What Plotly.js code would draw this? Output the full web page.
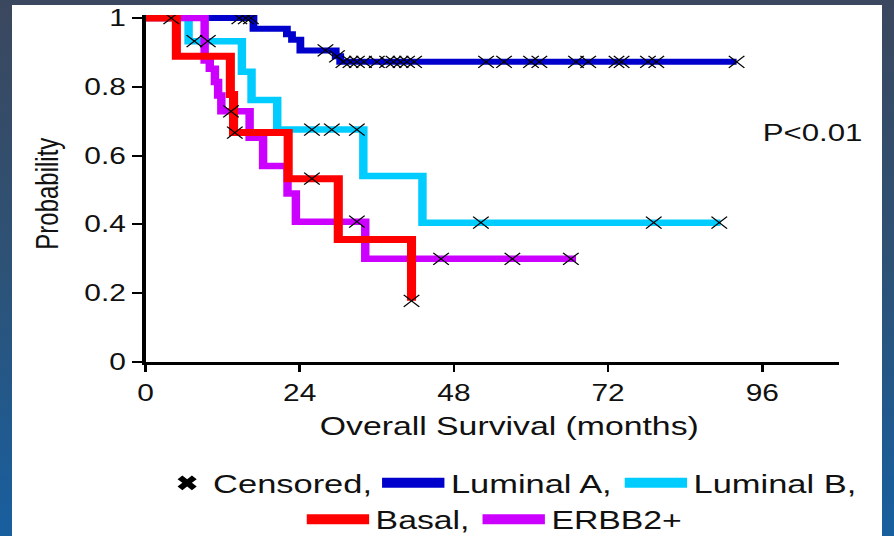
<!DOCTYPE html>
<html><head><meta charset="utf-8">
<script src="https://cdn.plot.ly/plotly-3.0.1.min.js"></script>
<style>
html,body{margin:0;padding:0;width:894px;height:536px;overflow:hidden;}
body{background:linear-gradient(180deg,#3b475e 0%,#2d5276 50%,#185f9f 100%);position:relative;}
#panel{position:absolute;left:12px;top:5px;width:870px;height:531px;background:#fff;}
#chart{position:absolute;left:0;top:0;width:688px;height:536px;transform:scale(1.2994,1);transform-origin:0 0;}
</style></head><body>
<div id="panel"></div><div id="chart"></div>
<script>
// Kaplan-Meier step data (months, survival probability)
const lumATimes = [0, 16.8, 22.0, 22.8, 24.1, 29.6, 30.3, 92.0];
const lumASurv  = [1, 0.969, 0.953, 0.937, 0.906, 0.889, 0.873, 0.873];
const lumACens  = [14.6, 15.6, 16.4, 28.0, 29.8, 30.8, 31.9, 32.9, 34.0, 36.0, 37.6, 38.6, 39.7, 40.7, 41.8,
                   53.0, 55.8, 60.0, 61.3, 67.0, 68.9, 73.3, 74.1, 78.2, 79.5, 92.0];

const lumBTimes = [0, 6.7, 15.0, 16.5, 20.5, 33.9, 43.1, 89.5];
const lumBSurv  = [1, 0.933, 0.844, 0.762, 0.676, 0.541, 0.405, 0.405];
const lumBCens  = [7.6, 9.7, 25.9, 29.0, 32.9, 52.2, 79.1, 89.3];

const basalTimes = [0, 4.8, 13.2, 13.7, 22.2, 30.0, 41.4];
const basalSurv  = [1, 0.889, 0.778, 0.667, 0.533, 0.356, 0.178];
const basalCens  = [4.0, 13.9, 25.9, 41.4];

const erbbTimes = [0, 9.2, 10.0, 10.8, 11.3, 11.8, 16.2, 18.3, 22.1, 23.4, 34.2, 67.0];
const erbbSurv  = [1, 0.877, 0.853, 0.814, 0.775, 0.729, 0.652, 0.570, 0.490, 0.408, 0.300, 0.300];
const erbbCens  = [13.3, 32.9, 46.0, 57.1, 66.2];

const xTickVals = [0, 24, 48, 72, 96];
const xTickText = ['0', '24', '48', '72', '96'];
const yTickVals = [0, 0.2, 0.4, 0.6, 0.8, 1];
const yTickText = ['0', '0.2', '0.4', '0.6', '0.8', '1'];

const groups = [
  {name: 'Luminal A,', t: lumATimes, s: lumASurv, c: lumACens, color: '#0000cc', w: 6,   legend: 'legend',  rank: 1},
  {name: 'Luminal B,', t: lumBTimes, s: lumBSurv, c: lumBCens, color: '#00ccff', w: 6.5, legend: 'legend',  rank: 2},
  {name: 'ERBB2+',     t: erbbTimes, s: erbbSurv, c: erbbCens, color: '#cc00ff', w: 6.5, legend: 'legend2', rank: 2},
  {name: 'Basal,',     t: basalTimes, s: basalSurv, c: basalCens, color: '#ff0000', w: 7, legend: 'legend2', rank: 1}
];

const FONT = 'Liberation Sans, Arial, Helvetica, sans-serif';

function survAt(times, surv, t) {
  let s = surv[0];
  for (let i = 0; i < times.length; i++) if (times[i] <= t) s = surv[i];
  return s;
}

const data = [];
// survival curves (drawing order: blue, cyan, magenta, red on top)
groups.forEach(g => data.push({x: g.t, y: g.s, mode: 'lines', name: g.name, showlegend: false,
  line: {shape: 'hv', color: g.color, width: g.w}, hoverinfo: 'skip'}));
// censored marks
groups.forEach(g => data.push({x: g.c, y: g.c.map(t => survAt(g.t, g.s, t)), mode: 'markers',
  showlegend: false, hoverinfo: 'skip',
  marker: {symbol: 'x-thin-open', size: 12, color: '#000', line: {width: 1.1, color: '#000'}}}));
// legend entries
data.push({x: [null], y: [null], mode: 'markers', name: 'Censored,', legend: 'legend3',
  marker: {symbol: 'x', size: 13, color: '#000', line: {width: 0}}});
groups.forEach(g => data.push({x: [null], y: [null], mode: 'lines', name: g.name, legend: g.legend,
  legendrank: g.rank, line: {color: g.color, width: 10}}));

const axisCommon = {showgrid: false, zeroline: false, showline: true, linecolor: '#000', linewidth: 2.5,
  ticks: 'outside', tickcolor: '#000', tickwidth: 2, tickfont: {family: FONT, size: 23, color: '#111'},
  fixedrange: true};

const legendCommon = {orientation: 'h', font: {family: FONT, size: 26.5, color: '#111'}, itemwidth: 48,
  bgcolor: 'rgba(0,0,0,0)', traceorder: 'normal', itemclick: false, itemdoubleclick: false,
  yanchor: 'middle', xanchor: 'left'};

const layout = {
  width: 688, height: 536,
  margin: {l: 112, r: 42, t: 15, b: 174, autoexpand: false},
  paper_bgcolor: 'rgba(0,0,0,0)', plot_bgcolor: 'rgba(0,0,0,0)',
  hovermode: false,
  xaxis: Object.assign({}, axisCommon, {range: [0, 108], tickvals: xTickVals, ticktext: xTickText,
    ticklen: 7, ticklabelstandoff: 2}),
  yaxis: Object.assign({}, axisCommon, {range: [0, 1.009], tickvals: yTickVals, ticktext: yTickText,
    ticklen: 8}),
  legend3: Object.assign({}, legendCommon, {x: 0.0225, y: -0.349, itemwidth: 30}),
  legend: Object.assign({}, legendCommon, {x: 0.3315, y: -0.349}),
  legend2: Object.assign({}, legendCommon, {x: 0.223, y: -0.4535,
    font: {family: FONT, size: 26, color: '#111'}}),
  annotations: [
    {text: 'Probability', xref: 'paper', yref: 'paper', x: -0.143, y: 0.484, textangle: -90,
     showarrow: false, xanchor: 'center', yanchor: 'middle', font: {family: FONT, size: 24, color: '#111'}},
    {text: 'Overall Survival (months)', xref: 'paper', yref: 'paper', x: 0.525, y: -0.184,
     showarrow: false, xanchor: 'center', yanchor: 'middle', font: {family: FONT, size: 26, color: '#111'}},
    {text: 'P<0.01', xref: 'paper', yref: 'paper', x: 0.886, y: 0.66,
     showarrow: false, xanchor: 'left', yanchor: 'middle', font: {family: FONT, size: 24, color: '#111'}}
  ]
};

Plotly.newPlot('chart', data, layout, {displayModeBar: false, staticPlot: true});
</script>
</body></html>
